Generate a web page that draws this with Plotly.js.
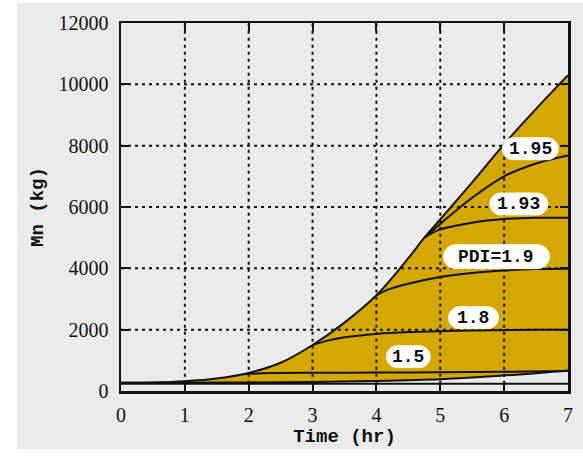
<!DOCTYPE html>
<html>
<head>
<meta charset="utf-8">
<script src="https://cdn.plot.ly/plotly-3.0.1.min.js"></script>
<style>
  html, body { margin: 0; padding: 0; background: #ffffff; }
  #wrap { position: relative; width: 583px; height: 458px; }
  #panel { position: absolute; left: 17px; top: 3px; width: 566px; height: 446px; background: #eaeaea; }
  #chart { position: absolute; left: 0; top: 0; width: 583px; height: 458px; }
</style>
</head>
<body>
<div id="wrap"><div id="panel"></div><div id="chart"></div></div>
<script>
// ---- data ----
const baseTime = [0, 7];
const baseMn = [240, 240];

const lowerTime = [0, 1, 2, 3, 4, 5, 5.5, 6, 6.5, 7];
const lowerMn   = [270, 272, 280, 295, 330, 385, 440, 505, 580, 665];

const upperTime = [0, 0.5, 1, 1.5, 2, 2.5, 3, 3.5, 4, 4.5, 4.75, 5, 5.5, 6, 6.5, 7];
const upperMn   = [270, 280, 320, 410, 590, 920, 1500, 2230, 3120, 4330, 5000, 5600, 6800, 8050, 9200, 10300];

const pdi15Time = [1.9, 2.2, 2.5, 3, 4, 5, 6, 7];
const pdi15Mn   = [550, 575, 588, 595, 600, 610, 625, 650];

const pdi18Time = [3, 3.25, 3.5, 4, 4.5, 5, 5.5, 6, 6.5, 7];
const pdi18Mn   = [1500, 1650, 1750, 1860, 1920, 1950, 1970, 1985, 1995, 2000];

const pdi19Time = [4, 4.2, 4.5, 5, 5.5, 6, 6.5, 7];
const pdi19Mn   = [3120, 3320, 3500, 3720, 3850, 3930, 3975, 3990];

const pdi193Time = [4.75, 5, 5.5, 6, 6.5, 7];
const pdi193Mn   = [5000, 5270, 5490, 5610, 5650, 5650];

const pdi195Time = [4.75, 5, 5.5, 6, 6.5, 7];
const pdi195Mn   = [5000, 5450, 6300, 7000, 7420, 7680];

const labelTexts = ["1.95", "1.93", "PDI=1.9", "1.8", "1.5"];
const xTicks = [0, 1, 2, 3, 4, 5, 6, 7];
const yTicks = [0, 2000, 4000, 6000, 8000, 10000, 12000];

// ---- layout config (positions / styles) ----
const labelPos = [
  {x: 6.41, y: 7900, w: 56, h: 22},
  {x: 6.23, y: 6100, w: 58, h: 22},
  {x: 5.88, y: 4380, w: 106, h: 24},
  {x: 5.52, y: 2390, w: 50, h: 22},
  {x: 4.50, y: 1120, w: 44, h: 22}
];

const GOLD = '#d4a800';
const lineStyle = {color: '#111', width: 2, shape: 'spline', smoothing: 0.9};

const traces = [
  {x: baseTime, y: baseMn, mode: 'lines', line: {color: '#111', width: 2}, hoverinfo: 'skip'},
  {x: lowerTime, y: lowerMn, mode: 'lines', line: lineStyle},
  {x: upperTime, y: upperMn, mode: 'lines', line: lineStyle, fill: 'tonexty', fillcolor: GOLD},
  {x: pdi15Time, y: pdi15Mn, mode: 'lines', line: lineStyle},
  {x: pdi18Time, y: pdi18Mn, mode: 'lines', line: lineStyle},
  {x: pdi19Time, y: pdi19Mn, mode: 'lines', line: lineStyle},
  {x: pdi193Time, y: pdi193Mn, mode: 'lines', line: lineStyle},
  {x: pdi195Time, y: pdi195Mn, mode: 'lines', line: lineStyle}
];

// dotted grid drawn above the fill
const shapes = [];
xTicks.slice(1, -1).forEach(v => shapes.push({
  type: 'line', xref: 'x', yref: 'paper', x0: v, x1: v, y0: 0.02, y1: 1,
  line: {color: '#111', width: 2, dash: '3px,4px'}, layer: 'above'
}));
yTicks.slice(1, -1).forEach(v => shapes.push({
  type: 'line', xref: 'paper', yref: 'y', x0: 0, x1: 1, y0: v, y1: v,
  line: {color: '#111', width: 2, dash: '3px,4px'}, layer: 'above'
}));

function pill(w, h) {
  const a = w / 2, b = h / 2, r = b, k = 0.55 * r;
  return `M ${-a + r} ${-b} L ${a - r} ${-b} C ${a - r + k} ${-b} ${a} ${-k} ${a} 0 ` +
         `C ${a} ${k} ${a - r + k} ${b} ${a - r} ${b} L ${-a + r} ${b} ` +
         `C ${-a + r - k} ${b} ${-a} ${k} ${-a} 0 C ${-a} ${-k} ${-a + r - k} ${-b} ${-a + r} ${-b} Z`;
}
const annotations = [];
labelTexts.forEach((t, i) => {
  const p = labelPos[i];
  shapes.push({
    type: 'path', xref: 'x', yref: 'y', xsizemode: 'pixel', ysizemode: 'pixel',
    xanchor: p.x, yanchor: p.y, path: pill(p.w, p.h),
    fillcolor: '#ffffff', line: {color: '#fff8e0', width: 1}, layer: 'above'
  });
  annotations.push({
    x: p.x, y: p.y, xref: 'x', yref: 'y', text: t, showarrow: false,
    font: {family: 'Liberation Mono, Courier New, monospace', size: 18, color: '#111', weight: 'bold'}
  });
});

const SERIF = '"Liberation Serif", "Times New Roman", "DejaVu Serif", serif';
const MONO = '"Liberation Mono", "Courier New", monospace';

const axisCommon = {
  showline: true, linecolor: '#111', linewidth: 2.5, mirror: 'ticks',
  ticks: 'inside', ticklen: 8, tickwidth: 2, tickcolor: '#111',
  showgrid: false, zeroline: false, layer: 'above traces',
  tickfont: {family: SERIF, size: 20, color: '#111'}
};

const layout = {
  width: 583, height: 458,
  margin: {l: 121, r: 15, t: 23, b: 67},
  paper_bgcolor: 'rgba(0,0,0,0)', plot_bgcolor: '#eaeaea',
  showlegend: false,
  font: {family: SERIF},
  xaxis: Object.assign({}, axisCommon, {
    range: [0, 7], tickvals: xTicks, ticktext: xTicks.map(String), ticklabelstandoff: 4,
    title: {text: 'Time (hr)', font: {family: MONO, size: 19, color: '#111', weight: 'bold'}, standoff: 4}
  }),
  yaxis: Object.assign({}, axisCommon, {
    range: [0, 12000], tickvals: yTicks, ticktext: yTicks.map(String), ticklabelstandoff: 6,
    title: {text: 'Mn (kg)', font: {family: MONO, size: 19, color: '#111', weight: 'bold'}, standoff: 10}
  }),
  shapes: shapes,
  annotations: annotations
};

Plotly.newPlot('chart', traces, layout, {staticPlot: true, displayModeBar: false});
</script>
</body>
</html>
